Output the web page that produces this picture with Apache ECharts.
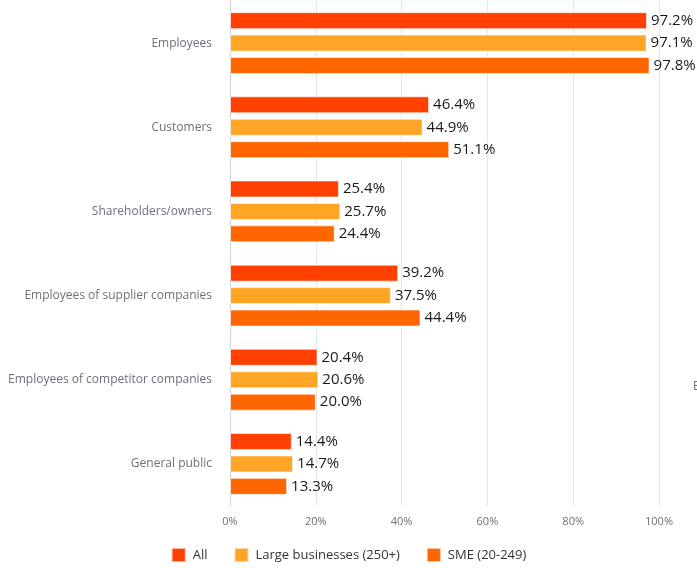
<!DOCTYPE html>
<html>
<head>
<meta charset="utf-8">
<script src="https://cdn.jsdelivr.net/npm/echarts@6/dist/echarts.min.js"></script>
<style>
  html, body { margin: 0; padding: 0; background: #fff; }
  #chart { width: 697px; height: 568px; }
</style>
</head>
<body>
<div id="chart"></div>
<script>
// Stakeholder groups, top to bottom
const categories = [
  'Employees',
  'Customers',
  'Shareholders/owners',
  'Employees of supplier companies',
  'Employees of competitor companies',
  'General public'
];

// Share of companies (%) per group
const allCompanies = [97.2, 46.4, 25.4, 39.2, 20.4, 14.4];
const largeBusinesses = [97.1, 44.9, 25.7, 37.5, 20.6, 14.7];
const smeBusinesses = [97.8, 51.1, 24.4, 44.4, 20.0, 13.3];

const seriesNames = ['All', 'Large businesses (250+)', 'SME (20-249)'];
const seriesColors = ['#ff4000', '#ffa526', '#ff6600'];
const seriesData = [allCompanies, largeBusinesses, smeBusinesses];

const fontFamily = '"Open Sans", "Noto Sans", sans-serif';

const chart = echarts.init(document.getElementById('chart'));
chart.setOption({
  animation: false,
  textStyle: { fontFamily: fontFamily },
  grid: { left: 230, right: 38, top: 1, bottom: 62 },
  legend: {
    bottom: 0,
    left: 'center',
    icon: 'rect',
    itemWidth: 14,
    itemHeight: 14,
    itemGap: 26,
    textStyle: { fontSize: 13, color: '#333', fontFamily: fontFamily, padding: [0, 0, 0, 2] },
    data: seriesNames
  },
  xAxis: {
    type: 'value',
    min: 0,
    max: 100,
    interval: 20,
    axisLabel: { formatter: '{value}%', fontSize: 11, color: '#6e7079', margin: 10 },
    splitLine: { lineStyle: { color: '#e0e6f1' } }
  },
  yAxis: {
    type: 'category',
    inverse: true,
    data: categories,
    axisTick: { show: false },
    axisLine: { lineStyle: { color: '#ccd3e6' } },
    axisLabel: { fontSize: 12, color: '#6e7079', margin: 18 }
  },
  series: seriesData.map((values, i) => ({
    name: seriesNames[i],
    type: 'bar',
    data: values,
    barWidth: 17,
    barGap: '32%',
    itemStyle: {
      color: seriesColors[i],
      borderColor: 'rgba(255,255,255,0.6)',
      borderWidth: 1
    },
    label: {
      show: true,
      position: 'right',
      distance: 4,
      formatter: p => p.value.toFixed(1) + '%',
      fontSize: 15,
      color: '#1a1a1a',
      textBorderColor: '#fff',
      textBorderWidth: 2,
      fontFamily: fontFamily
    }
  })),
  graphic: [{
    type: 'text',
    left: 693,
    top: 381,
    style: { text: 'Employees', fontSize: 12, fill: '#6e7079', fontFamily: fontFamily }
  }]
});
</script>
</body>
</html>
